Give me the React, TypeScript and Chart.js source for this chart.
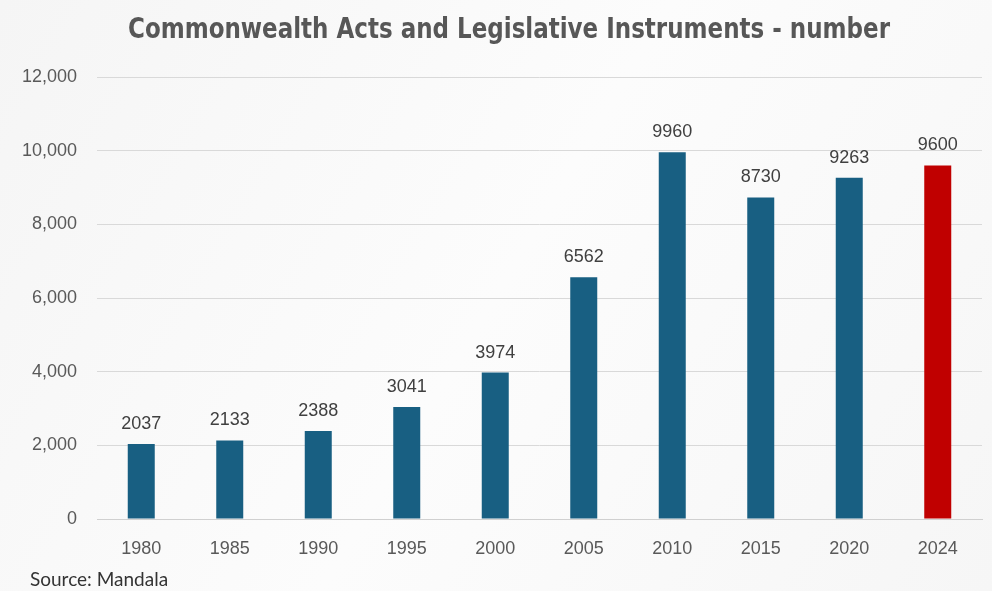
import React, { useEffect, useRef } from "react";
import { Chart, registerables } from "chart.js";

Chart.register(...registerables);

const years = ["1980", "1985", "1990", "1995", "2000", "2005", "2010", "2015", "2020", "2024"];
const counts = [2037, 2133, 2388, 3041, 3974, 6562, 9960, 8730, 9263, 9600];
const barColors = ["#185f82", "#185f82", "#185f82", "#185f82", "#185f82", "#185f82", "#185f82", "#185f82", "#185f82", "#c00000"];
const yTicks = [0, 2000, 4000, 6000, 8000, 10000, 12000];
const titleText = "Commonwealth Acts and Legislative Instruments - number";
const sourceText = "Source: Mandala";

export default function App() {
  const ref = useRef<HTMLCanvasElement | null>(null);
  useEffect(() => {
    if (!ref.current) return;
    const bgPlugin = {
      id: "bg",
      beforeDraw(chart: any) {
        const { ctx, width, height } = chart;
        ctx.save();
        const g = ctx.createLinearGradient(0, 0, width, height);
        g.addColorStop(0, "#f5f5f5");
        g.addColorStop(0.5, "#fcfcfc");
        g.addColorStop(1, "#f6f6f6");
        ctx.fillStyle = g;
        ctx.fillRect(0, 0, width, height);
        ctx.restore();
      },
    };
    const labelPlugin = {
      id: "vals",
      afterDatasetsDraw(chart: any) {
        const { ctx } = chart;
        const meta = chart.getDatasetMeta(0);
        ctx.save();
        ctx.font = "18px 'Liberation Sans', Arial, sans-serif";
        ctx.fillStyle = "#404040";
        ctx.textAlign = "center";
        ctx.textBaseline = "middle";
        meta.data.forEach((el: any, i: number) => {
          ctx.fillText(String(counts[i]), el.x, el.y - 20);
        });
        ctx.fillStyle = "#333333";
        ctx.font = "19px Lato, sans-serif";
        ctx.textAlign = "left";
        ctx.textBaseline = "middle";
        ctx.fillText(sourceText, 30, 580);
        ctx.restore();
        // title, horizontally condensed
        ctx.save();
        ctx.font = "bold 28px 'DejaVu Sans Condensed', 'DejaVu Sans', sans-serif";
        ctx.fillStyle = "#575757";
        ctx.textAlign = "center";
        ctx.textBaseline = "alphabetic";
        const w = ctx.measureText(titleText).width;
        const sx = Math.min(1, 762 / w);
        ctx.translate(509, 38);
        ctx.scale(sx, 1);
        ctx.fillText(titleText, 0, 0);
        ctx.restore();
      },
    };
    const chart = new Chart(ref.current, {
      type: "bar",
      data: {
        labels: years,
        datasets: [
          {
            data: counts,
            backgroundColor: barColors,
            barPercentage: 1,
            categoryPercentage: 0.305,
          },
        ],
      },
      options: {
        animation: false,
        responsive: false,
        maintainAspectRatio: false,
        layout: { padding: { left: 0, right: 10, top: 77, bottom: 0 } },
        plugins: {
          legend: { display: false },
          tooltip: { enabled: false },
          title: { display: false },
        },
        scales: {
          x: {
            grid: { display: false },
            border: { display: true, color: "#d0d0d0" },
            afterFit(axis: any) {
              axis.height = 72;
            },
            ticks: { color: "#595959", font: { family: "'Liberation Sans', Arial", size: 18 }, padding: 11 },
          },
          y: {
            min: 0,
            max: 12000,
            afterBuildTicks(axis: any) {
              axis.ticks = yTicks.map((v) => ({ value: v }));
            },
            afterFit(axis: any) {
              axis.width = 97;
            },
            grid: { color: "#d9d9d9", drawTicks: false },
            border: { display: false },
            ticks: {
              color: "#595959",
              font: { family: "'Liberation Sans', Arial", size: 18 },
              padding: 20,
              callback: (v: any) => Number(v).toLocaleString("en-US"),
            },
          },
        },
      },
      plugins: [bgPlugin, labelPlugin],
    });
    return () => chart.destroy();
  }, []);
  return (
    <div style={{ position: "fixed", left: 0, top: 0, width: 992, height: 591 }}>
      <canvas ref={ref} width={992} height={591} style={{ display: "block" }} />
    </div>
  );
}
